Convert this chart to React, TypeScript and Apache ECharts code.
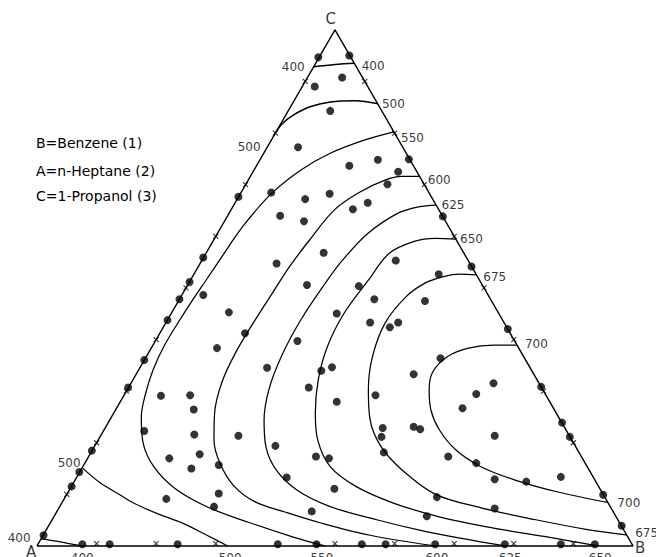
import React, { useEffect, useRef } from 'react';
import * as echarts from 'echarts';

type P = [number, number];

// Frame: equilateral triangle A(0,0) B(100,0) C(50,86.6)
const triangle: P[] = [[0, 0], [100, 0], [50, 86.6], [0, 0]];

const contour400Top: P[] = [[46.4, 80.4], [50, 80.8], [53.3, 81.0]];
const contour500Top: P[] = [[39.7, 68.8], [41.1, 70.8], [43.0, 72.3], [45.8, 73.7], [49.2, 74.5], [53.4, 74.7], [57.2, 74.2]];
const contour550: P[] = [[59.9, 69.5], [54.9, 68.1], [49.2, 65.9], [44.3, 63.1], [39.4, 59.2], [34.6, 53.7], [31.0, 48.5], [28.3, 44.5], [25.8, 40.8], [23.5, 37.2], [21.3, 33.5], [19.5, 29.6], [18.2, 25.5], [17.5, 21.6], [17.8, 17.3], [19.6, 13.3], [23.1, 9.7], [28.7, 6.5], [35.7, 3.9], [43.0, 1.5], [48.3, 0]];
const contour600: P[] = [[64.3, 62.0], [61.2, 62.0], [58.4, 61.4], [54.2, 59.4], [49.9, 56.4], [45.7, 51.3], [42.4, 46.9], [39.6, 42.6], [36.4, 37.6], [33.3, 32.4], [31.0, 27.4], [29.8, 22.3], [29.7, 17.8], [30.7, 13.9], [33.1, 10.0], [36.6, 7.4], [41.6, 5.7], [47.5, 3.9], [55.9, 1.8], [66.8, 0]];
const contour625: P[] = [[67.0, 57.2], [64.0, 56.9], [60.5, 55.8], [55.6, 52.5], [51.3, 48.0], [48.3, 44.0], [44.3, 38.0], [41.0, 31.8], [38.9, 26.2], [38.1, 21.1], [38.4, 16.7], [40.1, 12.8], [43.6, 9.4], [49.2, 6.6], [57.0, 4.4], [64.0, 2.7], [71.0, 1.3], [78.5, 0]];
const contour650: P[] = [[70.3, 51.5], [66.8, 51.6], [63.3, 51.1], [59.1, 49.1], [55.6, 44.6], [51.5, 39.0], [48.7, 33.4], [47.2, 27.9], [46.7, 22.3], [47.1, 17.8], [49.2, 13.3], [53.5, 10.0], [59.8, 7.2], [67.5, 4.9], [76.6, 3.0], [85.1, 1.6], [94.1, 0]];
const contour675: P[] = [[73.7, 45.5], [71.0, 45.6], [68.2, 45.2], [65.1, 44.1], [61.9, 41.8], [58.4, 37.4], [56.3, 31.8], [55.6, 26.2], [55.9, 21.1], [57.7, 16.7], [61.2, 12.8], [66.8, 8.7], [74.5, 6.4], [83.7, 4.4], [92.1, 2.8], [98.9, 1.85]];
const contour700: P[] = [[80.5, 33.7], [76.6, 33.7], [72.4, 33.2], [68.9, 31.8], [66.4, 29.2], [65.8, 26.2], [66.1, 22.8], [67.5, 19.5], [70.3, 16.1], [74.5, 13.3], [80.1, 11.1], [87.2, 9.1], [95.8, 7.3]];
const contour500Low: P[] = [[7.6, 13.1], [10.6, 10.6], [13.9, 8.6], [16.2, 7.2], [20.5, 5.3], [24.5, 3.8], [28.5, 1.8], [32.0, 0]];
const contour400Low: P[] = [[0.7, 1.2], [3.9, 0.7], [7.4, 0]];

const interiorDots: P[] = [
  [47.2, 82.0], [52.4, 82.3], [51.2, 78.6], [46.6, 77.1], [49.2, 73.0], [43.8, 66.9], [52.4, 63.8], [57.2, 64.8],
  [62.4, 64.9], [60.6, 62.8], [58.8, 60.7], [39.3, 59.3], [33.8, 58.6], [45.0, 58.2], [49.1, 59.1], [40.8, 55.4],
  [44.8, 54.5], [53.0, 56.5], [55.5, 57.6], [68.1, 55.3], [48.1, 49.2], [40.2, 47.4], [60.2, 47.9], [72.9, 46.9],
  [67.4, 45.6], [27.9, 48.4], [25.6, 44.3], [27.9, 42.1], [32.2, 39.2], [34.9, 35.7], [30.2, 33.2], [45.3, 43.8],
  [54.0, 43.6], [56.6, 41.4], [65.1, 41.1], [50.3, 39.0], [55.9, 37.5], [59.2, 36.7], [60.6, 37.5], [43.7, 34.4],
  [79.0, 36.4], [67.7, 31.5], [63.2, 28.8], [38.6, 29.9], [47.7, 29.4], [49.5, 30.0], [45.6, 26.6], [50.3, 24.2],
  [56.8, 25.3], [76.6, 27.3], [73.7, 25.5], [71.4, 23.1], [84.6, 26.7], [20.8, 25.2], [25.7, 25.3], [26.3, 22.9],
  [18.0, 19.3], [26.4, 18.7], [33.8, 18.5], [40.0, 16.8], [58.0, 19.8], [57.8, 18.3], [63.2, 20.0], [64.3, 19.6],
  [76.8, 18.5], [88.1, 20.7], [89.4, 18.3], [22.2, 14.7], [27.3, 15.4], [25.9, 13.0], [30.5, 13.6], [46.8, 15.0],
  [49.0, 14.7], [58.2, 15.7], [69.0, 15.0], [73.7, 13.9], [41.9, 11.5], [49.9, 9.6], [76.8, 11.2], [82.1, 10.8],
  [87.9, 11.6], [95.0, 8.6], [7.1, 12.4], [9.2, 16.0], [21.7, 7.9], [30.5, 8.8], [29.7, 6.6], [46.1, 5.8],
  [67.1, 8.2], [65.4, 5.0], [76.8, 6.3], [98.1, 3.4],
  [23.9, 41.4], [21.9, 37.9], [18.0, 31.2], [15.3, 26.6], [5.8, 10.0], [1.1, 1.8],
];
const baseDotsX: number[] = [7.6, 12.2, 23.6, 40.4, 46.9, 54.5, 58.5, 66.8, 78.5, 87.9, 93.6];

// small x marks along edges (position along base axis X)
const leftEdgeMarksX: number[] = [5, 10, 15, 20, 25, 30, 35, 40, 45];
const rightEdgeMarksX: number[] = [55, 60, 65, 70, 75, 80, 85, 90];
const baseMarksX: number[] = [10, 20, 30, 50, 60, 70, 80, 90];

const contourLabels: { t: string; p: P }[] = [
  { t: '400', p: [43.0, 80.4] }, { t: '400', p: [56.4, 80.5] }, { t: '500', p: [59.8, 74.2] },
  { t: '500', p: [35.6, 66.9] }, { t: '550', p: [63.0, 68.5] }, { t: '600', p: [67.5, 61.4] },
  { t: '625', p: [69.8, 57.2] }, { t: '650', p: [72.9, 51.5] }, { t: '675', p: [76.8, 45.1] },
  { t: '700', p: [83.8, 33.9] }, { t: '700', p: [99.3, 7.2] }, { t: '675', p: [102.3, 2.2] },
  { t: '500', p: [5.4, 14.0] }, { t: '400', p: [-3.0, 1.4] },
  { t: '400', p: [7.6, -2.0] }, { t: '500', p: [32.4, -2.0] }, { t: '550', p: [47.8, -2.0] },
  { t: '600', p: [67.1, -2.0] }, { t: '625', p: [79.4, -2.0] }, { t: '650', p: [94.5, -2.0] },
];
const vertexLabels: { t: string; p: P }[] = [
  { t: 'C', p: [49.3, 88.4] }, { t: 'A', p: [-1.0, -1.0] }, { t: 'B', p: [101.2, -0.3] },
];
const legendLines: string[] = ['B=Benzene (1)', 'A=n-Heptane (2)', 'C=1-Propanol (3)'];

const SQ3 = Math.sqrt(3);

export default function App() {
  const ref = useRef<HTMLDivElement>(null);
  useEffect(() => {
    const chart = echarts.init(ref.current!, null, { renderer: 'svg' });
    const line = (data: P[], width = 1.25, smooth: number | boolean = 0.35) => ({
      type: 'line', data, smooth, showSymbol: false, symbol: 'none', clip: false, silent: true,
      lineStyle: { color: '#000', width },
    });
    const marks: P[] = [
      ...leftEdgeMarksX.map((x) => [x, x * SQ3] as P),
      ...rightEdgeMarksX.map((x) => [x, (100 - x) * SQ3] as P),
      ...baseMarksX.map((x) => [x, 0.4] as P),
    ];
    const font = '"DejaVu Sans", sans-serif';
    const labelStyle = {
      show: true, position: 'inside', formatter: '{b}', color: '#000', fontFamily: font,
      textBorderWidth: 0, textBorderColor: 'transparent', textShadowBlur: 0,
    };
    const option: any = {
      animation: false,
      backgroundColor: '#fff',
      grid: { left: 1.24, top: 9.6, width: 652.6, height: 547.1 },
      xAxis: { type: 'value', min: -6, max: 103.5, show: false },
      yAxis: { type: 'value', min: -1.8, max: 90, show: false },
      series: [
        line(triangle, 1.4, false),
        line(contour400Top, 1.5),
        line(contour500Top, 1.5),
        line(contour550),
        line(contour600),
        line(contour625),
        line(contour650),
        line(contour675),
        line(contour700),
        line(contour500Low),
        line(contour400Low),
        {
          type: 'scatter', data: [...interiorDots, ...baseDotsX.map((x) => [x, 0.3] as P)],
          symbolSize: 8, clip: false, silent: true, itemStyle: { color: '#000' },
        },
        {
          type: 'scatter', data: marks, symbol: 'path://M0,0L10,10M10,0L0,10', symbolSize: 5,
          clip: false, silent: true, itemStyle: { color: 'transparent', borderColor: '#000', borderWidth: 1.1 },
        },
        {
          type: 'scatter', symbolSize: 0, clip: false, silent: true, itemStyle: { color: '#000' },
          data: contourLabels.map((l) => ({ name: l.t, value: l.p })),
          label: { ...labelStyle, fontSize: 12 },
        },
        {
          type: 'scatter', symbolSize: 0, clip: false, silent: true, itemStyle: { color: '#000' },
          data: vertexLabels.map((l) => ({ name: l.t, value: l.p })),
          label: { ...labelStyle, fontSize: 15 },
        },
      ],
      graphic: legendLines.map((t, i) => ({
        type: 'text', x: 36, y: [143, 170.5, 195.5][i],
        style: { text: t, fontSize: 14, fontFamily: font, fill: '#000', verticalAlign: 'middle' },
      })),
    };
    chart.setOption(option);
    return () => chart.dispose();
  }, []);
  return <div ref={ref} style={{ position: 'fixed', left: 0, top: 0, width: 656, height: 557, background: '#fff' }} />;
}
